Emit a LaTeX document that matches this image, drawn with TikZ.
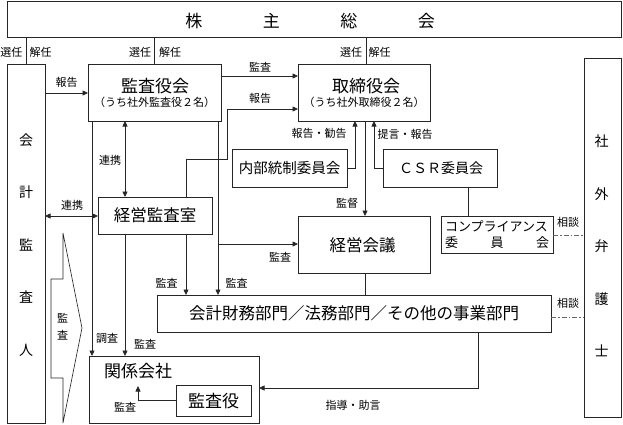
\documentclass[tikz,border=0pt]{standalone}
\usepackage{fontspec}
\setmainfont{Noto Sans CJK JP}
\usetikzlibrary{arrows.meta}
\newcommand\szBig{\fontsize{16.5}{18}\selectfont}
\newcommand\szMid{\fontsize{14.5}{16}\selectfont}
\newcommand\szSub{\fontsize{11}{12}\selectfont}
\newcommand\szLab{\fontsize{11}{12}\selectfont}
\begin{document}
\begin{tikzpicture}[x=1pt,y=-1pt,
  line width=0.7pt,
  box/.style={draw=black!85,line width=0.7pt,inner sep=0pt,outer sep=0pt,rectangle},
  conn/.style={draw=black!85,line width=0.7pt},
  arr/.style={conn,-{Triangle[length=5.5pt,width=5pt]}},
  darr/.style={conn,{Triangle[length=5.5pt,width=5pt]}-{Triangle[length=5.5pt,width=5pt]}},
  dd/.style={draw=black!60,line width=0.7pt,dash pattern=on 5pt off 2pt on 1.5pt off 2pt},
  lab/.style={font=\szLab,inner sep=0pt},
  txt/.style={inner sep=0pt}]
\useasboundingbox (0,0) rectangle (623,424);

% boxes
\node[box,minimum width=614,minimum height=36] (kabu) at (314,19) {};
\node[txt,font=\fontsize{17}{18}\selectfont] (kabut) at (310,21) {株\hspace{60.5pt}主\hspace{60.5pt}総\hspace{60.5pt}会};

\node[box,minimum width=38,minimum height=359] (kaikei) at (26,243.5) {};
\node[txt,font=\fontsize{14}{52.5}\selectfont,align=center] (kaikeit) at (26,245) {会\\計\\監\\査\\人};

\node[box,minimum width=37,minimum height=359] (bengo) at (602.5,237.5) {};
\node[txt,font=\fontsize{14}{52.5}\selectfont,align=center] (bengot) at (601.5,246) {社\\外\\弁\\護\\士};

\node[box,minimum width=133,minimum height=57] (kansa) at (154.5,92.5) {};
\node[txt,font=\fontsize{17}{18}\selectfont] (kansat) at (155,86.5) {監査役会};
\node[txt,font=\szSub] (kansas) at (154.5,102) {（うち社外監査役２名）};

\node[box,minimum width=132,minimum height=57] (tori) at (364,92.5) {};
\node[txt,font=\fontsize{17}{18}\selectfont] (torit) at (366,86.5) {取締役会};
\node[txt,font=\szSub] (toris) at (364,102) {（うち社外取締役２名）};

\node[box,minimum width=114,minimum height=37] (keik) at (155,215.5) {};
\node[txt,font=\szBig] (keikt) at (155,215.5) {経営監査室};

\node[box,minimum width=115,minimum height=38] (naibu) at (289.5,168) {};
\node[txt,font=\szMid] (naibut) at (289.5,168.5) {内部統制委員会};

\node[box,minimum width=114,minimum height=38] (csr) at (440,168) {};
\node[txt,font=\fontsize{14}{16}\selectfont] (csrt) at (441,168) {ＣＳＲ委員会};

\node[box,minimum width=132,minimum height=57] (kaigi) at (364,244.5) {};
\node[txt,font=\szBig] (kaigit) at (362.5,245) {経営会議};

\node[box,minimum width=112,minimum height=37] (comp) at (497,234.5) {};
\node[txt,font=\fontsize{13}{16}\selectfont,align=left] (compt) at (497,235) {コンプライアンス\\\makebox[8em]{委\hfill 員\hfill 会}};

\node[box,minimum width=394,minimum height=37] (bumon) at (354,313.5) {};
\node[txt,font=\szBig] (bumont) at (354,313.5) {会計財務部門／法務部門／その他の事業部門};

\node[box,minimum width=170,minimum height=67] (kankei) at (174,389.5) {};
\node[txt,font=\fontsize{17}{18}\selectfont] (kankeit) at (138,371.5) {関係会社};

\node[box,minimum width=75,minimum height=31] (kko) at (213.5,400.5) {};
\node[txt,font=\fontsize{17}{18}\selectfont] (kkot) at (213.5,401.5) {監査役};

% block arrow 監査
\draw[conn,line width=0.6pt] (63,233) -- (82,328) -- (63,423) -- (63,378) -- (51,378) -- (51,279) -- (63,279) -- cycle;
\node[txt,font=\szLab] (bk1) at (62.5,318) {監};
\node[txt,font=\szLab] (bk2) at (62.5,335) {査};

% election lines
\draw[conn] (kaikei.north) -- (kaikei.north |- kabu.south);
\draw[conn] (kansa.north) -- (kansa.north |- kabu.south);
\draw[conn] (tori.north -| 366,0) -- (kabu.south -| 366,0);
\node[lab] (l1) at (11.5,52) {選任};
\node[lab] (l2) at (40.5,52) {解任};
\node[lab] (l3) at (140,52) {選任};
\node[lab] (l4) at (170,52) {解任};
\node[lab] (l5) at (351,52) {選任};
\node[lab] (l6) at (379.5,52) {解任};

% connectors
\draw[arr] (kaikei.east |- 0,93) -- (kansa.west |- 0,93);
\node[lab] (l7) at (66.5,82) {報告};

\draw[arr] (kansa.east |- 0,76) -- (tori.west |- 0,76);
\node[lab] (l8) at (260,67) {監査};

\coordinate (b1) at (186,159);
\coordinate (b2) at (227,159);
\coordinate (b3) at (227,109);
\draw[arr] (keik.north -| b1) -- (b1) -- (b2) -- (b3) -- (tori.west |- b3);
\node[lab] (l9) at (260,98) {報告};

\draw[darr] (kansa.south -| 125,0) -- (keik.north -| 125,0);
\node[lab] (l10) at (110,160) {連携};

\draw[darr] (kaikei.east |- 0,216) -- (keik.west |- 0,216);
\node[lab] (l11) at (72,205) {連携};

\draw[arr] (kansa.south -| 92,0) -- (kankei.north -| 92,0);
\node[lab] (l12) at (107,338) {調査};

\draw[arr] (keik.south -| 125,0) -- (kankei.north -| 125,0);
\node[lab] (l13) at (145,344) {監査};

\draw[arr] (keik.south -| 186,0) -- (bumon.north -| 186,0);
\node[lab] (l14) at (166.5,283) {監査};

\draw[arr] (kansa.south -| 218,0) -- (bumon.north -| 218,0);
\node[lab] (l15) at (236.5,283) {監査};

\coordinate (b4) at (218,244);
\draw[arr] (b4) -- (kaigi.west |- b4);
\node[lab] (l16) at (280,257) {監査};

\draw[arr] (tori.south -| 365,0) -- (kaigi.north -| 365,0);
\node[lab] (l17) at (347,203) {監督};

\coordinate (b5) at (355,168);
\draw[arr] (naibu.east) -- (b5) -- (tori.south -| b5);
\node[lab] (l18) at (319,133) {報告・勧告};

\coordinate (b6) at (374,168);
\draw[arr] (csr.west) -- (b6) -- (tori.south -| b6);
\node[lab] (l19) at (405,134) {提言・報告};

\draw[conn] (csr.south -| 468,0) -- (comp.north -| 468,0);
\draw[conn] (kaigi.south -| 365,0) -- (bumon.north -| 365,0);

\draw[dd] (comp.east |- 0,235) -- (bengo.west |- 0,235);
\node[lab] (l20) at (568,222) {相談};
\draw[dd] (bumon.east |- 0,317) -- (bengo.west |- 0,317);
\node[lab] (l21) at (568,303) {相談};

\coordinate (b7) at (478,388);
\draw[arr] (bumon.south -| b7) -- (b7) -- (kankei.east |- b7);
\node[lab] (l22) at (353,405) {指導・助言};

\coordinate (b8) at (138,400);
\coordinate (kt) at (138,386);
\draw[arr] (kko.west |- b8) -- (b8) -- (kt);
\node[lab] (l23) at (125,407) {監査};
\end{tikzpicture}
\end{document}
